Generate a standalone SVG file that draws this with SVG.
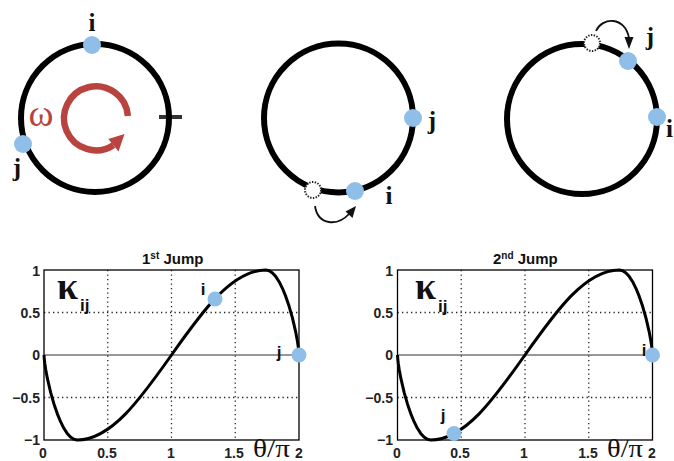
<svg xmlns="http://www.w3.org/2000/svg" xmlns:xlink="http://www.w3.org/1999/xlink" width="674" height="461" viewBox="0 0 674 461">
<style>
.ring{fill:none;stroke:#000;stroke-width:6}
.dot{fill:#8fbfe8}
.ghost{fill:#fff;stroke:#222;stroke-width:2;stroke-dasharray:1.4 1.4}
.tick{stroke:#333;stroke-width:4}
.lbl{font-family:"Liberation Serif",serif;font-weight:bold;font-size:25px;fill:#111}
.jarrow{fill:none;stroke:#111;stroke-width:1.8}
.grid{stroke:#222;stroke-width:1.3;stroke-dasharray:1.3 3.2}
.box{fill:none;stroke:#000;stroke-width:1.3}
.zero{stroke:#333;stroke-width:1.2}
.curve{fill:none;stroke:#000;stroke-width:3;stroke-linejoin:round}
.tk{font-family:"Liberation Sans",Arial,sans-serif;font-weight:bold;font-size:14px;fill:#222}
.ttl{font-family:"Liberation Sans",Arial,sans-serif;font-weight:bold;font-size:15px;fill:#111}
.kap{font-family:"Liberation Serif",serif;font-weight:bold;font-size:38px;fill:#111}
.sub{font-family:"Liberation Sans",Arial,sans-serif;font-weight:bold;font-size:17px;fill:#111}
.pl{font-family:"Liberation Sans",Arial,sans-serif;font-weight:bold;font-size:17px;fill:#111}
.th{font-family:"Liberation Serif",serif;font-size:25px;fill:#111}
</style>
<defs>
<path id="k" d="M0,0 L0.33,4.6 0.83,8.8 1.66,14.3 3.32,23.2 6.63,37.4 9.95,48.9 13.26,58.6 16.58,66.7 19.89,73.3 23.21,78.4 26.52,82.1 29.84,84.3 33.15,85 C67.29,85 96.73,43.55 127.5,0 C158.27,-43.55 187.71,-85 221.85,-85 L225.16,-84.3 228.48,-82.1 231.79,-78.4 235.11,-73.3 238.42,-66.7 241.74,-58.6 245.05,-48.9 248.37,-37.4 251.68,-23.2 253.34,-14.3 254.17,-8.8 254.67,-4.6 255,0"/>
</defs>

<g id="circle1">
<line class="tick" x1="159" y1="117" x2="182" y2="117"/>
<circle class="ring" cx="95" cy="118" r="74"/>
<circle class="dot" cx="92" cy="45" r="9"/>
<circle class="dot" cx="23" cy="144" r="9"/>
<text class="lbl" x="92" y="31" text-anchor="middle">i</text>
<text class="lbl" x="17" y="176" text-anchor="middle">j</text>
<g id="omega">
<path d="M127.9,116 A32,32 0 1 0 113.4,145.2" fill="none" stroke="#b8433f" stroke-width="6.5"/>
<polygon points="124.5,134 118.5,151.5 108.3,139" fill="#b8433f"/>
<text x="41" y="126" text-anchor="middle" font-family="Liberation Serif,serif" font-size="38" fill="#b8433f">ω</text>
</g>
</g>

<g id="circle2">
<line class="tick" x1="405" y1="118" x2="421" y2="118"/>
<circle class="ring" cx="338.5" cy="118" r="74.5"/>
<circle class="ghost" cx="313" cy="190" r="8"/>
<circle class="dot" cx="355" cy="191" r="9"/>
<circle class="dot" cx="413" cy="118" r="9"/>
<text class="lbl" x="389" y="204" text-anchor="middle">i</text>
<text class="lbl" x="432" y="129" text-anchor="middle">j</text>
<path class="jarrow" d="M315,206 C318,226 338,226 349,214"/>
<polygon points="356,206 352.5,218 345.5,211.5" fill="#111"/>
</g>

<g id="circle3">
<line class="tick" x1="649" y1="117" x2="665" y2="117"/>
<circle class="ring" cx="582" cy="119" r="75"/>
<circle class="ghost" cx="592" cy="43" r="8"/>
<circle class="dot" cx="628" cy="61" r="9"/>
<circle class="dot" cx="657" cy="117" r="9"/>
<text class="lbl" x="650" y="45" text-anchor="middle">j</text>
<text class="lbl" x="666" y="137" font-size="23">i</text>
<path class="jarrow" d="M596,31 C602,17 625,16 629,38"/>
<polygon points="629,49 624.5,37 633.5,37" fill="#111"/>
</g>

<g id="plot1">
<text class="ttl" x="142" y="264">1<tspan font-size="10" dy="-5">st</tspan><tspan dy="5"> Jump</tspan></text>
<line class="grid" x1="107.75" y1="270" x2="107.75" y2="440"/>
<line class="grid" x1="171.5" y1="270" x2="171.5" y2="440"/>
<line class="grid" x1="235.25" y1="270" x2="235.25" y2="440"/>
<line class="grid" x1="44" y1="312.5" x2="299" y2="312.5"/>
<line class="grid" x1="44" y1="397.5" x2="299" y2="397.5"/>
<line class="zero" x1="44" y1="355" x2="299" y2="355"/>
<rect class="box" x="44" y="270" width="255" height="170"/>
<use xlink:href="#k" class="curve" transform="translate(44,355)"/>
<circle class="dot" cx="215" cy="299" r="7.5"/>
<circle class="dot" cx="299" cy="355" r="7.5"/>
<text class="pl" x="203" y="295" text-anchor="middle">i</text>
<text class="pl" x="279" y="358" text-anchor="middle">j</text>
<text class="kap" x="57" y="299">κ</text>
<text class="sub" x="80" y="311">ij</text>
<text class="tk" x="40" y="276" text-anchor="end">1</text>
<text class="tk" x="40" y="318" text-anchor="end">0.5</text>
<text class="tk" x="40" y="360" text-anchor="end">0</text>
<text class="tk" x="40" y="403" text-anchor="end">−0.5</text>
<text class="tk" x="40" y="445" text-anchor="end">−1</text>
<text class="tk" x="43" y="458" text-anchor="middle">0</text>
<text class="tk" x="107" y="458" text-anchor="middle">0.5</text>
<text class="tk" x="171" y="458" text-anchor="middle">1</text>
<text class="tk" x="234" y="458" text-anchor="middle">1.5</text>
<text class="tk" x="299" y="458" text-anchor="middle">2</text>
<text class="th" x="253" y="457" textLength="37" lengthAdjust="spacingAndGlyphs">θ/π</text>
</g>

<g id="plot2">
<text class="ttl" x="493" y="264">2<tspan font-size="10" dy="-5">nd</tspan><tspan dy="5"> Jump</tspan></text>
<line class="grid" x1="461.25" y1="270" x2="461.25" y2="440"/>
<line class="grid" x1="525" y1="270" x2="525" y2="440"/>
<line class="grid" x1="588.75" y1="270" x2="588.75" y2="440"/>
<line class="grid" x1="397.5" y1="312.5" x2="652.5" y2="312.5"/>
<line class="grid" x1="397.5" y1="397.5" x2="652.5" y2="397.5"/>
<line class="zero" x1="397.5" y1="355" x2="652.5" y2="355"/>
<rect class="box" x="397.5" y="270" width="255" height="170"/>
<use xlink:href="#k" class="curve" transform="translate(397.5,355)"/>
<text class="pl" x="644" y="356" text-anchor="middle">i</text>
<circle class="dot" cx="454" cy="433.5" r="7.5"/>
<circle class="dot" cx="652.5" cy="355" r="7.5"/>
<text class="pl" x="443" y="421" text-anchor="middle">j</text>
<text class="kap" x="415" y="299">κ</text>
<text class="sub" x="438" y="312">ij</text>
<text class="tk" x="393" y="276" text-anchor="end">1</text>
<text class="tk" x="393" y="318" text-anchor="end">0.5</text>
<text class="tk" x="393" y="360" text-anchor="end">0</text>
<text class="tk" x="393" y="403" text-anchor="end">−0.5</text>
<text class="tk" x="393" y="445" text-anchor="end">−1</text>
<text class="tk" x="397" y="458" text-anchor="middle">0</text>
<text class="tk" x="460" y="458" text-anchor="middle">0.5</text>
<text class="tk" x="524" y="458" text-anchor="middle">1</text>
<text class="tk" x="588" y="458" text-anchor="middle">1.5</text>
<text class="tk" x="652" y="458" text-anchor="middle">2</text>
<text class="th" x="607" y="457" textLength="36" lengthAdjust="spacingAndGlyphs">θ/π</text>
</g>
</svg>
